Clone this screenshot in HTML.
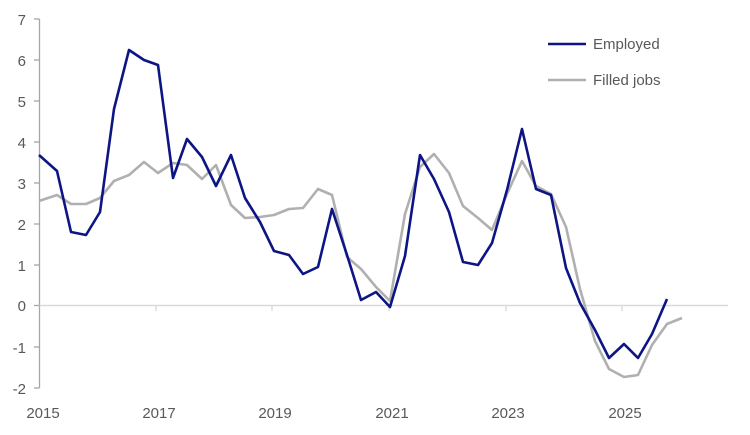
<!DOCTYPE html>
<html><head><style>body{margin:0;background:#fff}svg{display:block}text{font-family:"Liberation Sans",sans-serif;fill:#595959;font-size:15px}</style></head><body>
<svg width="750" height="435" viewBox="0 0 750 435">
<line x1="39.5" y1="19" x2="39.5" y2="388" stroke="#a6a6a6" stroke-width="1.3"/>
<g stroke="#a6a6a6" stroke-width="1.3">
<line x1="34" y1="19" x2="39.5" y2="19"/><line x1="34" y1="60" x2="39.5" y2="60"/><line x1="34" y1="101" x2="39.5" y2="101"/><line x1="34" y1="142" x2="39.5" y2="142"/><line x1="34" y1="183" x2="39.5" y2="183"/><line x1="34" y1="224" x2="39.5" y2="224"/><line x1="34" y1="265" x2="39.5" y2="265"/><line x1="34" y1="305.5" x2="39.5" y2="305.5"/><line x1="34" y1="347" x2="39.5" y2="347"/><line x1="34" y1="388" x2="39.5" y2="388"/>
</g>
<line x1="39.5" y1="305.5" x2="728" y2="305.5" stroke="#d9d9d9" stroke-width="1.5"/>
<g stroke="#d9d9d9" stroke-width="1.3"><line x1="156" y1="305" x2="156" y2="311"/><line x1="272" y1="305" x2="272" y2="311"/><line x1="389" y1="305" x2="389" y2="311"/><line x1="506" y1="305" x2="506" y2="311"/><line x1="622" y1="305" x2="622" y2="311"/></g>
<g text-anchor="end">
<text x="26" y="25">7</text><text x="26" y="66">6</text><text x="26" y="107">5</text><text x="26" y="148">4</text><text x="26" y="189">3</text><text x="26" y="230">2</text><text x="26" y="271">1</text><text x="26" y="311">0</text><text x="26" y="353">-1</text><text x="26" y="394">-2</text>
</g>
<g text-anchor="middle">
<text x="43" y="418">2015</text><text x="159" y="418">2017</text><text x="275" y="418">2019</text><text x="392" y="418">2021</text><text x="508" y="418">2023</text><text x="625" y="418">2025</text>
</g>
<polyline fill="none" stroke="#b0b0b0" stroke-width="2.6" stroke-linejoin="round" points="39,201 57,195 71,204 86,204 100,198 114,181 129,175 144,162 158,173 173,163 187,165 202,179 216,165 231,205 245,218 260,217 274,215 289,209 303,208 318,189 332,195 347,257 361,269 376,287 390,301 405,214 420,167 434,154 449,173 463,206 478,218 492,230 507,194 522,161 536,186 551,194 566,227 580,289 595,341 609,369 624,377 638,375 652,345 667,324 682,318"/>
<polyline fill="none" stroke="#0d1585" stroke-width="2.6" stroke-linejoin="round" points="39,155 57,171 71,232 86,235 100,212 114,109 129,50 144,60 158,65 173,178 187,139 202,157 216,186 231,155 245,198 260,222 274,251 289,255 303,274 318,267 332,209 347,255 361,300 376,292 390,307 405,256 420,155 434,179 449,212 463,262 478,265 492,243 507,190 522,129 536,189 551,195 566,268 580,303 595,330 609,358 624,344 638,358 652,334 667,299"/>
<line x1="548" y1="44" x2="586" y2="44" stroke="#0d1585" stroke-width="2.6"/>
<line x1="548" y1="80" x2="586" y2="80" stroke="#b0b0b0" stroke-width="2.6"/>
<text x="593" y="49">Employed</text>
<text x="593" y="85">Filled jobs</text>
</svg>
</body></html>
